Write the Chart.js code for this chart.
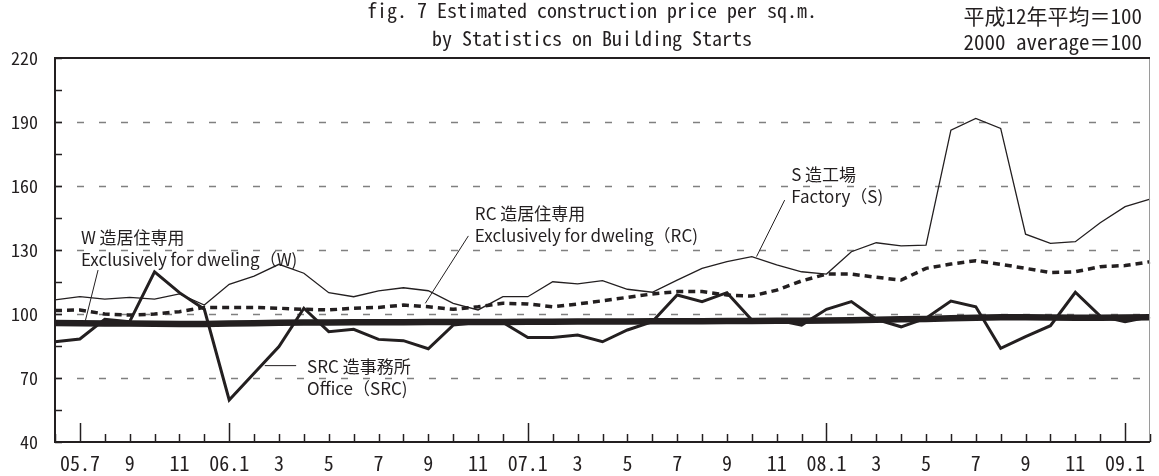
<!DOCTYPE html>
<html>
<head>
<meta charset="utf-8">
<script src="https://cdn.jsdelivr.net/npm/chart.js@4.4.1/dist/chart.umd.min.js"></script>
<style>
  html, body { margin: 0; padding: 0; background: #fff; }
  #wrap { width: 1159px; height: 476px; }
</style>
</head>
<body>
<div id="wrap"><canvas id="priceChart" width="1159" height="476"></canvas></div>
<script>
// Monthly index 2005.6 - 2009.2 (2000 average = 100)
const months = [
  "", "05.7", "", "9", "", "11", "", "06.1", "", "3", "", "5", "", "7", "", "9", "", "11", "",
  "07.1", "", "3", "", "5", "", "7", "", "9", "", "11", "",
  "08.1", "", "3", "", "5", "", "7", "", "9", "", "11", "",
  "09.1", ""
];
const factoryS = [
  106.6, 108.1, 107.0, 107.8, 107.0, 109.4, 104.2, 113.9, 117.8, 123.3,
  119.1, 110.0, 108.1, 110.8, 112.3, 110.9, 105.0, 101.9, 108.1, 108.1,
  115.1, 114.1, 115.6, 111.6, 110.2, 115.9, 121.4, 124.5, 126.9, 123.0,
  119.8, 118.7, 129.2, 133.4, 131.9, 132.3, 186.2, 191.7, 187.0, 137.4,
  133.1, 133.9, 142.8, 150.3, 153.8
];
const dwellingRC = [
  101.6, 101.9, 100.0, 99.5, 100.0, 101.1, 103.1, 103.1, 103.1, 102.7,
  102.2, 101.9, 102.7, 103.1, 104.2, 103.4, 102.2, 103.4, 105.0, 104.7,
  103.4, 104.7, 106.2, 107.8, 109.4, 110.5, 110.5, 108.9, 108.4, 111.2,
  115.5, 118.7, 118.7, 117.2, 115.9, 121.4, 123.4, 125.0, 123.3, 121.4,
  119.4, 119.8, 122.2, 122.7, 124.5
];
const officeSRC = [
  87.0, 88.3, 97.5, 96.4, 119.8, 110.0, 102.2, 59.7, 72.2, 84.7,
  102.7, 91.7, 92.8, 88.1, 87.5, 83.7, 94.8, 96.0, 96.0, 89.0,
  89.0, 90.1, 87.0, 92.5, 96.4, 108.9, 105.8, 110.0, 97.2, 97.2,
  94.8, 102.2, 105.8, 97.5, 94.0, 98.0, 106.1, 103.4, 83.9, 89.4,
  94.5, 110.2, 99.0, 96.4, 98.7
];
const dwellingW = [
  95.8, 95.7, 95.6, 95.5, 95.4, 95.3, 95.3, 95.5, 95.7, 95.9,
  96.0, 96.0, 96.1, 96.1, 96.1, 96.2, 96.2, 96.3, 96.3, 96.4,
  96.4, 96.5, 96.5, 96.5, 96.6, 96.6, 96.6, 96.7, 96.7, 96.8,
  96.8, 97.0, 97.1, 97.3, 97.5, 97.7, 98.0, 98.3, 98.5, 98.5,
  98.4, 98.3, 98.3, 98.4, 98.5
];
const yTicks = [40, 70, 100, 130, 160, 190, 220];

const INK = "#231f20";
const MONO = "'Noto Sans Mono CJK JP', 'DejaVu Sans Mono', monospace";
const GOTHIC = "'Noto Sans CJK JP', 'Noto Sans', sans-serif";

// labels with leader lines, placed in data units (month index, value)
const notes = [
  { lines: ["W 造居住専用", "Exclusively for dweling（W)"], at: [1.04, 136.0], leader: [[1.73, 120.6], [1.21, 96.4]] },
  { lines: ["SRC 造事務所", "Office（SRC)"], at: [10.13, 75.3], leader: [[8.43, 75.8], [9.69, 75.8]] },
  { lines: ["RC 造居住専用", "Exclusively for dweling（RC)"], at: [16.87, 146.9], leader: [[16.61, 136.6], [14.88, 105.0]] },
  { lines: ["S 造工場", "Factory（S)"], at: [29.58, 165.2], leader: [[29.32, 153.4], [28.19, 126.9]] }
];

function xAt(chart, idx) {
  return chart.scales.x.getPixelForDecimal(idx / (months.length - 1));
}

// dashed grid lines
const gridPlugin = {
  id: "dashGrid",
  beforeDatasetsDraw(chart) {
    const { ctx, chartArea, scales: { y } } = chart;
    ctx.save();
    ctx.strokeStyle = "#808080";
    ctx.lineWidth = 1.5;
    ctx.setLineDash([7, 15]);
    yTicks.slice(1, -1).forEach((v) => {
      const py = Math.round(y.getPixelForValue(v)) + 0.5;
      ctx.beginPath();
      ctx.moveTo(chartArea.left, py);
      ctx.lineTo(chartArea.right, py);
      ctx.stroke();
    });
    ctx.restore();
  }
};

// frame, inward tick marks, labels
const framePlugin = {
  id: "frame",
  afterDatasetsDraw(chart) {
    const { ctx, chartArea: a, scales: { x, y } } = chart;
    ctx.save();
    ctx.strokeStyle = INK;

    // ticks on y axis
    ctx.lineWidth = 1.5;
    y.ticks.forEach((t) => {
      const py = Math.round(y.getPixelForValue(t.value)) + 0.5;
      ctx.beginPath();
      ctx.moveTo(a.left, py);
      ctx.lineTo(a.left + 7, py);
      ctx.stroke();
    });
    // ticks on x axis, long ones at January
    months.forEach((m, i) => {
      const px = Math.round(x.getPixelForValue(i)) + 0.5;
      const len = m.indexOf(".") > 0 ? 19 : 8;
      ctx.beginPath();
      ctx.moveTo(px, a.bottom);
      ctx.lineTo(px, a.bottom - len);
      ctx.stroke();
    });

    // box
    ctx.lineWidth = 1;
    ctx.strokeStyle = "#9a9a9a";
    ctx.beginPath();
    ctx.moveTo(a.right - 0.5, a.top);
    ctx.lineTo(a.right - 0.5, a.bottom);
    ctx.stroke();
    ctx.strokeStyle = INK;
    ctx.lineWidth = 2;
    ctx.beginPath();
    ctx.moveTo(a.right, a.top);
    ctx.lineTo(a.left, a.top);
    ctx.lineTo(a.left, a.bottom);
    ctx.lineTo(a.right, a.bottom);
    ctx.stroke();

    // annotations
    ctx.lineWidth = 1;
    ctx.fillStyle = INK;
    ctx.font = "17px " + GOTHIC;
    ctx.textAlign = "left";
    ctx.textBaseline = "middle";
    notes.forEach((n) => {
      const [p, q] = n.leader;
      ctx.beginPath();
      ctx.moveTo(xAt(chart, p[0]), y.getPixelForValue(p[1]));
      ctx.lineTo(xAt(chart, q[0]), y.getPixelForValue(q[1]));
      ctx.stroke();
      const tx = xAt(chart, n.at[0]);
      const ty = y.getPixelForValue(n.at[1]);
      n.lines.forEach((line, k) => ctx.fillText(line, tx, ty + k * 22));
    });
    ctx.restore();
  },
  afterDraw(chart) {
    const { ctx } = chart;
    ctx.save();
    ctx.fillStyle = INK;
    ctx.textBaseline = "middle";
    ctx.font = "20px " + MONO;
    ctx.textAlign = "center";
    ctx.fillText("fig. 7 Estimated construction price per sq.m.", 592, 10);
    ctx.fillText("by Statistics on Building Starts", 592, 38);
    ctx.font = "21px " + MONO;
    ctx.textAlign = "right";
    ctx.fillText("平成12年平均＝100", 1142, 16);
    ctx.fillText("2000 average＝100", 1142, 42);
    ctx.restore();
  }
};

const line = (data, width, dash) => ({
  data: data,
  borderColor: INK,
  borderWidth: width,
  borderDash: dash || [],
  pointRadius: 0,
  tension: 0,
  fill: false
});

new Chart(document.getElementById("priceChart"), {
  type: "line",
  data: {
    labels: months,
    datasets: [
      Object.assign(line(dwellingW, 6.5), { label: "W" }),
      Object.assign(line(officeSRC, 3), { label: "SRC" }),
      Object.assign(line(dwellingRC, 3.5, [7, 5]), { label: "RC" }),
      Object.assign(line(factoryS, 1.3), { label: "S" })
    ]
  },
  options: {
    responsive: false,
    animation: false,
    layout: { padding: { top: 58, right: 1, left: 0, bottom: 0 } },
    plugins: {
      legend: { display: false },
      tooltip: { enabled: false },
      title: { display: false }
    },
    scales: {
      x: {
        type: "category",
        offset: false,
        grid: { display: false, drawTicks: false },
        border: { display: false },
        ticks: {
          autoSkip: false,
          maxRotation: 0,
          minRotation: 0,
          padding: 9,
          color: INK,
          font: { family: MONO, size: 20 }
        },
        afterFit: (s) => { s.height = 34; }
      },
      y: {
        min: 40,
        max: 220,
        grid: { display: false, drawTicks: false },
        border: { display: false },
        ticks: {
          stepSize: 15,
          padding: 17,
          color: INK,
          font: { family: MONO, size: 18 },
          callback: (v) => (yTicks.includes(v) ? v : "")
        },
        afterFit: (s) => { s.width = 55; }
      }
    }
  },
  plugins: [gridPlugin, framePlugin]
});
</script>
</body>
</html>
